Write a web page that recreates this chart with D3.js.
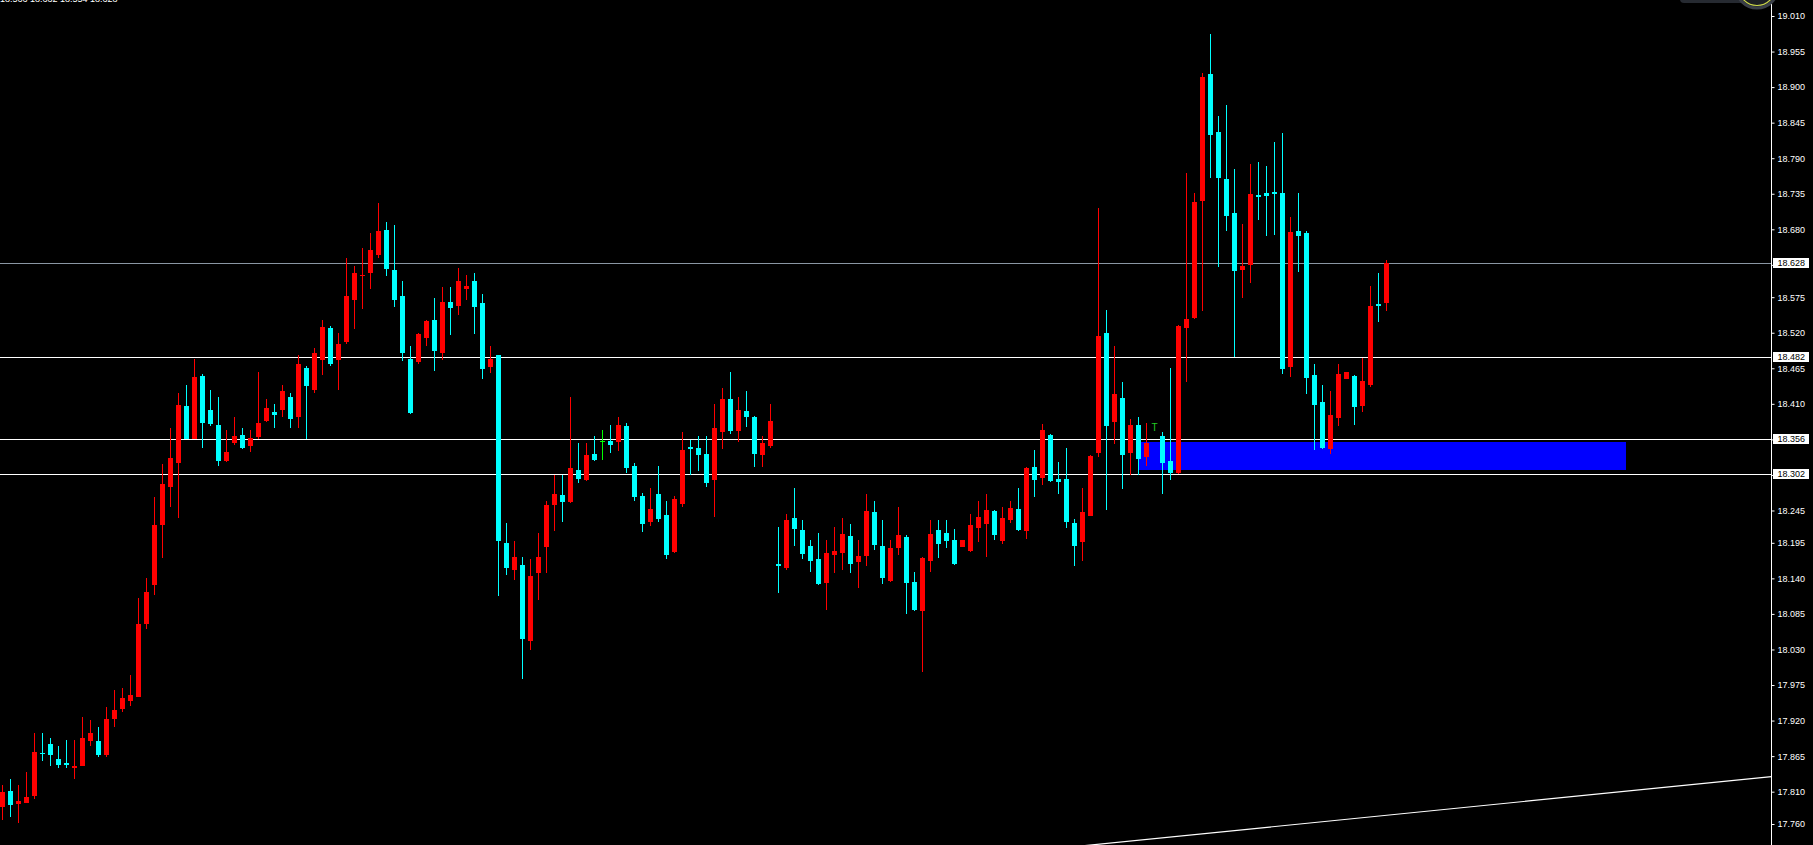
<!DOCTYPE html>
<html><head><meta charset="utf-8">
<script src="https://cdnjs.cloudflare.com/ajax/libs/d3/7.8.5/d3.min.js"></script>
<style>html,body{margin:0;padding:0;background:#000;overflow:hidden}svg{display:block}</style>
</head><body>
<script>
// ---- data ----
const opens = [17.787,17.811,17.791,17.793,17.804,17.870,17.884,17.861,17.854,17.847,17.850,17.889,17.888,17.866,17.923,17.938,17.951,17.957,18.070,18.129,
18.223,18.282,18.319,18.407,18.356,18.453,18.401,18.377,18.321,18.349,18.362,18.345,18.359,18.383,18.397,18.400,18.421,18.390,18.466,18.431,
18.478,18.527,18.478,18.506,18.571,18.607,18.613,18.641,18.679,18.617,18.577,18.479,18.474,18.512,18.540,18.489,18.568,18.562,18.588,18.600,
18.566,18.467,18.485,18.195,18.153,18.161,18.043,18.148,18.189,18.254,18.269,18.258,18.308,18.292,18.333,18.352,18.353,18.351,18.376,18.314,
18.267,18.227,18.271,18.238,18.181,18.255,18.343,18.342,18.333,18.292,18.367,18.418,18.368,18.399,18.390,18.331,18.345,18.162,18.156,18.233,
18.215,18.190,18.170,18.133,18.176,18.179,18.206,18.165,18.175,18.243,18.190,18.136,18.187,18.204,18.134,18.090,18.167,18.215,18.210,18.199,
18.189,18.182,18.218,18.224,18.244,18.198,18.230,18.247,18.213,18.312,18.295,18.362,18.294,18.294,18.226,18.196,18.237,18.334,18.520,18.382,
18.419,18.334,18.377,18.328,null,18.360,18.322,18.303,18.527,18.543,18.724,18.920,18.831,18.758,18.705,18.617,18.625,18.733,18.736,18.738,
18.736,18.467,18.677,18.674,18.455,18.413,18.340,18.388,18.448,18.453,18.407,18.439,18.564,18.566];
const highs = [17.820,17.830,17.820,17.840,17.901,17.901,17.893,17.881,17.890,17.890,17.926,17.921,17.910,17.941,17.967,17.971,17.991,18.110,18.141,18.266,
18.317,18.373,18.427,18.439,18.479,18.456,18.431,18.421,18.370,18.390,18.373,18.370,18.459,18.418,18.410,18.439,18.427,18.486,18.469,18.497,
18.540,18.531,18.520,18.636,18.623,18.651,18.674,18.721,18.691,18.687,18.600,18.500,18.520,18.540,18.574,18.591,18.591,18.620,18.610,18.612,
18.580,18.500,18.486,18.226,18.198,18.173,18.170,18.210,18.260,18.300,18.300,18.421,18.350,18.350,18.360,18.370,18.377,18.390,18.380,18.319,
18.272,18.280,18.314,18.260,18.267,18.367,18.354,18.360,18.360,18.410,18.435,18.459,18.421,18.430,18.391,18.360,18.410,18.220,18.240,18.280,
18.230,18.199,18.210,18.199,18.220,18.233,18.224,18.199,18.271,18.260,18.230,18.199,18.250,18.207,18.150,18.173,18.230,18.230,18.230,18.216,
18.199,18.240,18.260,18.271,18.245,18.251,18.260,18.280,18.312,18.339,18.379,18.363,18.320,18.342,18.232,18.280,18.331,18.713,18.555,18.500,
18.444,18.387,18.390,18.380,null,18.366,18.465,18.532,18.767,18.736,18.922,18.982,18.855,18.872,18.773,18.688,18.781,18.784,18.778,18.815,
18.829,18.699,18.736,18.677,18.472,18.439,18.430,18.472,18.459,18.454,18.481,18.592,18.612,18.632];
const lows = [17.766,17.771,17.762,17.792,17.798,17.858,17.849,17.847,17.846,17.830,17.849,17.881,17.863,17.864,17.910,17.934,17.943,17.956,18.061,18.115,
18.172,18.251,18.234,18.355,18.355,18.341,18.376,18.314,18.320,18.346,18.340,18.336,18.356,18.382,18.373,18.389,18.373,18.372,18.356,18.426,
18.454,18.468,18.432,18.502,18.526,18.556,18.588,18.636,18.608,18.560,18.477,18.395,18.472,18.499,18.461,18.478,18.516,18.548,18.570,18.518,
18.448,18.458,18.112,18.145,18.138,17.984,18.029,18.107,18.148,18.213,18.227,18.257,18.288,18.291,18.322,18.323,18.334,18.337,18.303,18.260,
18.212,18.221,18.227,18.170,18.180,18.251,18.300,18.306,18.281,18.235,18.340,18.363,18.351,18.374,18.312,18.312,18.342,18.117,18.153,18.190,
18.170,18.150,18.130,18.091,18.148,18.153,18.148,18.125,18.159,18.184,18.131,18.135,18.176,18.085,18.089,17.995,18.150,18.172,18.187,18.160,
18.189,18.181,18.196,18.173,18.199,18.193,18.226,18.214,18.201,18.266,18.285,18.289,18.271,18.218,18.159,18.167,18.236,18.328,18.246,18.348,
18.278,18.300,18.300,18.314,null,18.270,18.292,18.302,18.444,18.542,18.554,18.759,18.622,18.677,18.483,18.574,18.597,18.694,18.670,18.671,
18.456,18.452,18.614,18.425,18.339,18.340,18.332,18.376,18.448,18.377,18.397,18.436,18.537,18.554];
const closes = [17.810,17.789,17.796,17.802,17.871,17.869,17.866,17.852,17.851,17.850,17.893,17.901,17.866,17.922,17.936,17.955,17.960,18.069,18.119,18.223,
18.286,18.326,18.408,18.356,18.452,18.381,18.379,18.321,18.336,18.360,18.341,18.357,18.380,18.404,18.392,18.430,18.387,18.472,18.437,18.489,
18.529,18.472,18.503,18.577,18.612,18.609,18.648,18.678,18.619,18.571,18.488,18.396,18.518,18.538,18.492,18.568,18.559,18.600,18.592,18.560,
18.464,18.479,18.198,18.156,18.173,18.046,18.144,18.173,18.254,18.271,18.258,18.311,18.294,18.331,18.323,18.352,18.346,18.377,18.311,18.266,
18.224,18.247,18.232,18.176,18.263,18.339,18.340,18.331,18.288,18.373,18.418,18.368,18.401,18.390,18.333,18.350,18.384,18.159,18.230,18.216,
18.178,18.167,18.131,18.179,18.182,18.209,18.162,18.175,18.244,18.192,18.141,18.187,18.207,18.133,18.091,18.172,18.209,18.193,18.198,18.162,
18.199,18.223,18.235,18.246,18.207,18.234,18.249,18.215,18.311,18.292,18.370,18.291,18.289,18.227,18.190,18.243,18.329,18.515,18.376,18.425,
18.331,18.377,18.325,18.350,null,18.319,18.303,18.530,18.541,18.722,18.916,18.826,18.759,18.701,18.616,18.623,18.735,18.730,18.732,18.735,
18.464,18.676,18.670,18.450,18.408,18.342,18.393,18.456,18.459,18.405,18.445,18.561,18.562,18.628];

const tickLabels = ["19.010","18.955","18.900","18.845","18.790","18.735","18.680","18.625","18.575","18.520","18.465","18.410",
"18.355","18.300","18.245","18.195","18.140","18.085","18.030","17.975","17.920","17.865","17.810","17.760"];
const levelPrices = [18.628, 18.482, 18.356, 18.302];   // first one is the bid line
const zoneIndex = [142, 203];
const zonePrice = [18.351, 18.308];
const trendIndex = [130, 220];
const trendPrice = [17.720, 17.832];
const markerIndex = [144];
const markerPrice = [18.368];
const markerText = ["T"];
const headerText = "18.566 18.632 18.554 18.628";

// ---- layout ----
const W = 1813, H = 845, axisX = 1771.5;
const candles = opens.map((o, i) => ({i, o, h: highs[i], l: lows[i], c: closes[i]})).filter(d => d.o !== null);

const x = d3.scaleLinear().domain([0, 173]).range([2.5, 1386.5]);
const y = d3.scaleLinear().domain([17.760, 19.010]).range([824, 16]);

const svg = d3.select("body").append("svg").attr("width", W).attr("height", H)
  .style("font-family", "'Liberation Sans', Arial, sans-serif");
svg.append("rect").attr("width", W).attr("height", H).attr("fill", "#000");

svg.append("defs").append("clipPath").attr("id", "plot")
  .append("rect").attr("x", 0).attr("y", 0).attr("width", axisX).attr("height", H);
const plot = svg.append("g").attr("clip-path", "url(#plot)");

// zone rectangle (behind candles)
plot.append("rect")
  .attr("x", x(zoneIndex[0]) - 0.5).attr("width", x(zoneIndex[1]) - x(zoneIndex[0]))
  .attr("y", Math.round(y(zonePrice[0]))).attr("height", Math.round(y(zonePrice[1])) - Math.round(y(zonePrice[0])))
  .attr("fill", "#0000ff");

// horizontal levels
plot.selectAll("line.level").data(levelPrices).join("line").attr("class", "level")
  .attr("x1", 0).attr("x2", axisX)
  .attr("y1", d => Math.round(y(d)) + 0.5).attr("y2", d => Math.round(y(d)) + 0.5)
  .attr("stroke", (d, k) => k === 0 ? "#8a96a3" : "#ffffff").attr("stroke-width", 1);

// trend line (ray to the right)
const slope = (trendPrice[1] - trendPrice[0]) / (trendIndex[1] - trendIndex[0]);
const endIdx = x.invert(axisX);
plot.append("line")
  .attr("x1", x(trendIndex[0])).attr("y1", y(trendPrice[0]))
  .attr("x2", x(endIdx)).attr("y2", y(trendPrice[0] + slope * (endIdx - trendIndex[0])))
  .attr("stroke", "#ffffff").attr("stroke-width", 1.2);

// candles
const col = d => d.c > d.o ? "#ff0000" : (d.c < d.o ? "#00ffff" : "#00ff00");
const g = plot.append("g");
g.selectAll("rect.wick").data(candles).join("rect").attr("class", "wick")
  .attr("x", d => x(d.i) - 0.5).attr("width", 1)
  .attr("y", d => Math.round(y(d.h)))
  .attr("height", d => Math.max(1, Math.round(y(d.l)) - Math.round(y(d.h))))
  .attr("fill", col);
g.selectAll("rect.body").data(candles).join("rect").attr("class", "body")
  .attr("x", d => x(d.i) - 2.5).attr("width", 5)
  .attr("y", d => Math.round(y(Math.max(d.o, d.c))))
  .attr("height", d => Math.max(1, Math.round(y(Math.min(d.o, d.c))) - Math.round(y(Math.max(d.o, d.c)))))
  .attr("fill", col);

// marker text
plot.selectAll("text.marker").data(markerIndex).join("text").attr("class", "marker")
  .attr("x", d => x(d)).attr("y", (d, k) => y(markerPrice[k]))
  .attr("text-anchor", "middle").attr("fill", "#22cc22").attr("font-size", 10)
  .text((d, k) => markerText[k]);

// header (cut off at top)
svg.append("text").attr("x", 0).attr("y", 1.5).attr("fill", "#ffffff").attr("font-size", 9).text(headerText);

// right price axis
svg.append("line").attr("x1", axisX).attr("x2", axisX).attr("y1", 0).attr("y2", H)
  .attr("stroke", "#ffffff").attr("stroke-width", 1);
const axis = d3.axisRight(y).tickValues(tickLabels.map(Number)).tickFormat(d3.format(".3f")).tickSize(3).tickPadding(3);
const ag = svg.append("g").attr("transform", `translate(${axisX},0)`).call(axis);
ag.select(".domain").remove();
ag.selectAll(".tick line").attr("stroke", "#ffffff");
ag.selectAll(".tick text").attr("fill", "#ffffff").attr("font-size", 9)
  .attr("font-family", "'Liberation Sans', Arial, sans-serif");

// level labels on axis
const lab = svg.selectAll("g.lab").data(levelPrices).join("g").attr("class", "lab")
  .attr("transform", d => `translate(${axisX + 1.5},${Math.round(y(d))})`);
lab.append("rect").attr("x", 0).attr("y", -5).attr("width", 36).attr("height", 10).attr("fill", "#ffffff");
lab.append("text").attr("x", 4.5).attr("dy", "0.34em").attr("fill", "#000").attr("font-size", 9)
  .text(d => d3.format(".3f")(d));

// top-right widget (partially visible)
svg.append("rect").attr("x", 1680).attr("y", -10).attr("width", 70).attr("height", 13).attr("rx", 4).attr("fill", "#262a31");
svg.append("circle").attr("cx", 1757).attr("cy", -13).attr("r", 21).attr("fill", "#1c1f24").attr("stroke", "#3a3f48").attr("stroke-width", 3);
svg.append("circle").attr("cx", 1757).attr("cy", -13).attr("r", 18.5).attr("fill", "none").attr("stroke", "#c9d44a").attr("stroke-width", 1.2);
</script>
</body></html>
